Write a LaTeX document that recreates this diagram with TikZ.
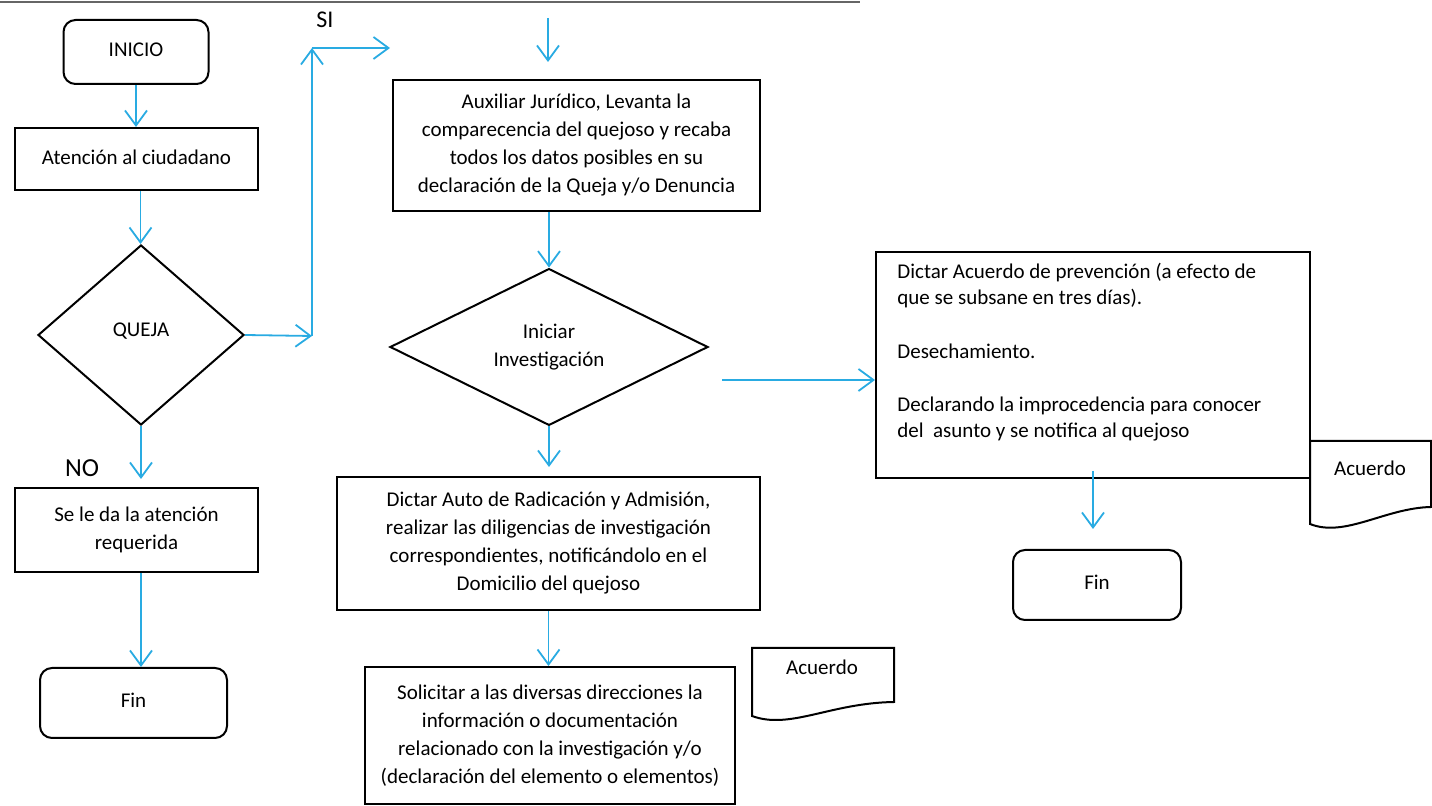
\documentclass[tikz,border=0pt]{standalone}
\usepackage{fontspec}
\setmainfont{Carlito}
\usetikzlibrary{arrows.meta,shapes.geometric}
\definecolor{ablue}{RGB}{41,171,226}
\begin{document}
\begin{tikzpicture}[x=0.5pt,y=-0.5pt,
  txt/.style={font=\fontsize{10.5}{14}\selectfont, align=center},
  box/.style={draw=black, line width=1pt, inner sep=0pt, txt},
  rbox/.style={box, rounded corners=6pt},
  dia/.style={draw=black, line width=1pt, diamond, inner sep=0pt, txt},
  doc/.style={draw=black, line width=1pt},
  arr/.style={draw=ablue, line width=0.9pt, -{Straight Barb[length=7.5pt,width=11pt]}}]
\useasboundingbox (0,0) rectangle (1432,806);
\draw[line width=1pt, black!60] (0,2) -- (860,2);

% left column
\node[rbox, minimum width=72.5pt, minimum height=32pt] (inicio) at (136,52) {\raisebox{2pt}{INICIO}};
\node[box, minimum width=121.5pt, minimum height=31pt] (aten) at (136.5,159) {\raisebox{2pt}{Atención al ciudadano}};
\node[dia, minimum width=103pt, minimum height=90pt] (queja) at (141,335) {\raisebox{5pt}{QUEJA}};
\node[box, minimum width=121.5pt, minimum height=42pt] (se) at (136.5,530) {Se le da la atención\\requerida};
\node[rbox, minimum width=93.5pt, minimum height=35pt] (fin1) at (133.5,703) {\raisebox{3pt}{Fin}};
\node[font=\fontsize{13}{15}\selectfont, inner sep=0pt] (no) at (82,468) {NO};
\node[font=\fontsize{12}{14}\selectfont, inner sep=0pt] (si) at (325,20) {SI};

% middle column
\node[box, minimum width=183.5pt, minimum height=65.5pt] (aux) at (576.5,145.5) {Auxiliar Jurídico, Levanta la\\comparecencia del quejoso y recaba\\todos los datos posibles en su\\declaración de la Queja y/o Denuncia};
\node[dia, minimum width=159pt, minimum height=75pt] (ini) at (549,347) {Iniciar\\Investigación};
\node[box, minimum width=211.5pt, minimum height=66.5pt] (dictar) at (548.5,543.5) {Dictar Auto de Radicación y Admisión,\\realizar las diligencias de investigación\\correspondientes, notificándolo en el\\Domicilio del quejoso};
\node[box, minimum width=185pt, minimum height=68.5pt] (sol) at (550,735.5) {Solicitar a las diversas direcciones la\\información o documentación\\relacionado con la investigación y/o\\(declaración del elemento o elementos)};

% documents
\draw[doc] (752,648) -- (752,716) .. controls (790,730) and (830,703) .. (894,702) -- (894,648) -- cycle;
\node[txt, inner sep=0pt] (acu1) at (822,667) {Acuerdo};
\draw[doc] (1310,441) -- (1310,524) .. controls (1345,538) and (1385,508) .. (1431,507) -- (1431,441) -- cycle;
\node[txt, inner sep=0pt] (acu2) at (1370,468) {Acuerdo};

% right column
\node[box, fill=white, minimum width=217pt, minimum height=113pt] (rbox) at (1093,365) {};
\node[font=\fontsize{10.5}{13.3}\selectfont, align=left, inner sep=0pt, anchor=base west] (rtxt) at (897,438)
  {Dictar Acuerdo de prevención (a efecto de\\que se subsane en tres días).\\[13.3pt]Desechamiento.\\[13.3pt]Declarando la improcedencia para conocer\\del\ \ asunto y se notifica al quejoso};
\node[rbox, minimum width=84pt, minimum height=35pt] (fin2) at (1097,585) {\raisebox{3pt}{Fin}};

% connectors
\coordinate (c1) at (312,336);
\coordinate (c2) at (312,48);
\coordinate (c3) at (390,48);
\coordinate (t1) at (548,18);
\coordinate (t2) at (548,62);
\coordinate (r1) at (722,380);

\draw[arr] (inicio.south) -- (inicio.south |- aten.north);
\draw[arr] ([xshift=2pt]aten.south) -- ([xshift=2pt]aten.south |- queja.north);
\draw[arr] (queja.east) -- (c1);
\draw[arr] (c1) -- (c2);
\draw[arr] (c2) -- (c3);
\draw[arr] (queja.south) -- ([yshift=4pt]queja.south |- se.north);
\draw[arr] (queja.south |- se.south) -- (queja.south |- fin1.north);
\draw[arr] (t1) -- (t2);
\draw[arr] (aux.south -| ini.north) -- (ini.north);
\draw[arr] (ini.south) -- ([yshift=4.5pt]ini.south |- dictar.north);
\draw[arr] (dictar.south) -- (dictar.south |- sol.north);
\draw[arr] (r1) -- (r1 -| rbox.west);
\draw[arr] ([yshift=4pt]rbox.south) -- ([yshift=10pt]rbox.south |- fin2.north);
\end{tikzpicture}
\end{document}
